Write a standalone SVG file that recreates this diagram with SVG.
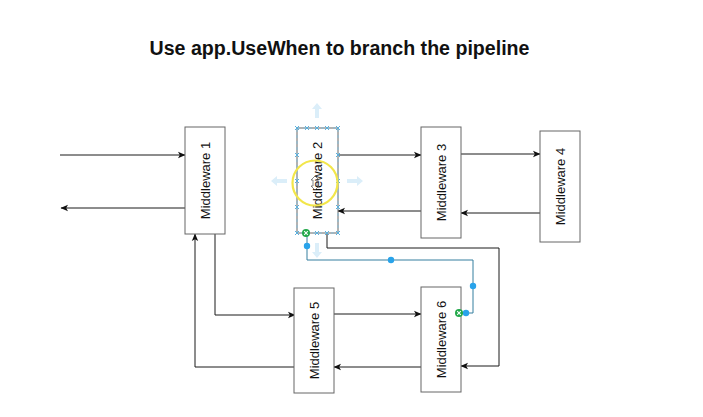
<svg xmlns="http://www.w3.org/2000/svg" width="703" height="417" viewBox="0 0 703 417">
<defs>
<marker id="arr" viewBox="0 0 8 8" markerWidth="8" markerHeight="8" refX="7" refY="4" orient="auto" markerUnits="userSpaceOnUse">
<path d="M0,0.8 L7.5,4 L0,7.2 L1.8,4 z" fill="#111"/>
</marker>
<g id="xh"><path d="M-2,-2 L2,2 M-2,2 L2,-2" stroke="#5ab0dd" stroke-width="1"/></g>
<g id="dot"><circle r="3.2" fill="#29a3ea"/></g>
<g id="green"><circle r="4" fill="#22a84a"/><path d="M-1.8,-1.8 L1.8,1.8 M-1.8,1.8 L1.8,-1.8" stroke="#fff" stroke-width="1.1"/></g>
</defs>
<style>
.box{fill:#fff;stroke:#666;stroke-width:1}
.lbl{font-family:"Liberation Sans",Arial,sans-serif;font-size:13px;fill:#111;text-anchor:middle}
.e{fill:none;stroke:#1a1a1a;stroke-width:1}
.sel{fill:none;stroke:#357f9f;stroke-width:1}
.ha{fill:#dbeef9}
</style>
<rect width="703" height="417" fill="#fff"/>
<text x="339.5" y="55" font-family="'Liberation Sans',Arial,sans-serif" font-size="19.6" font-weight="bold" text-anchor="middle" fill="#111">Use app.UseWhen to branch the pipeline</text>

<g id="connectors">
<path class="e" d="M60,155 L185,155" marker-end="url(#arr)"/>
<path class="e" d="M185,208 L61,208" marker-end="url(#arr)"/>
<path class="e" d="M338,155 L421,155" marker-end="url(#arr)"/>
<path class="e" d="M461,154 L540,154" marker-end="url(#arr)"/>
<path class="e" d="M540,213 L461,213" marker-end="url(#arr)"/>
<path class="e" d="M421,211 L338,211" marker-end="url(#arr)"/>
<path class="e" d="M215,234 L215,315 L295,315" marker-end="url(#arr)"/>
<path class="e" d="M295,367 L195,367 L195,234" marker-end="url(#arr)"/>
<path class="e" d="M334,314 L421,314" marker-end="url(#arr)"/>
<path class="e" d="M421,367 L334,367" marker-end="url(#arr)"/>
<path class="e" d="M327,233 L327,248 L499,248 L499,366 L461,366" marker-end="url(#arr)"/>
<path class="sel" d="M307,233 L307,260 L473,260 L473,313 L461,313"/>
</g>

<g id="m1"><rect class="box" x="185" y="127" width="40" height="107"/><text class="lbl" transform="translate(205,180.5) rotate(-90)" y="4.5">Middleware 1</text></g>
<g id="m2"><rect class="box" x="297" y="128" width="41" height="105"/><text class="lbl" transform="translate(317.5,180.5) rotate(-90)" y="4.5">Middleware 2</text></g>
<g id="m3"><rect class="box" x="421" y="127" width="40" height="111"/><text class="lbl" transform="translate(441,182.5) rotate(-90)" y="4.5">Middleware 3</text></g>
<g id="m4"><rect class="box" x="540" y="131" width="40" height="111"/><text class="lbl" transform="translate(560,186.5) rotate(-90)" y="4.5">Middleware 4</text></g>
<g id="m5"><rect class="box" x="294" y="288" width="40" height="105"/><text class="lbl" transform="translate(314,340.5) rotate(-90)" y="4.5">Middleware 5</text></g>
<g id="m6"><rect class="box" x="421" y="287" width="40" height="105"/><text class="lbl" transform="translate(441,339.5) rotate(-90)" y="4.5">Middleware 6</text></g>

<g id="selection">
<path class="ha" d="M317,103 L322,109 L319,109 L319,118 L315,118 L315,109 L312,109 z"/>
<path class="ha" d="M317,258 L322,252 L319,252 L319,243 L315,243 L315,252 L312,252 z"/>
<path class="ha" d="M271,181 L277,176 L277,179 L287,179 L287,183 L277,183 L277,186 z"/>
<path class="ha" d="M363,181 L357,176 L357,179 L347,179 L347,183 L357,183 L357,186 z"/>
<rect x="297" y="128" width="41" height="105" fill="none" stroke="#7fbfe0" stroke-width="0.8" stroke-dasharray="3,3"/>
<use href="#xh" x="297" y="128"/><use href="#xh" x="307" y="128"/><use href="#xh" x="317" y="128"/><use href="#xh" x="327" y="128"/><use href="#xh" x="338" y="128"/>
<use href="#xh" x="297" y="155"/><use href="#xh" x="297" y="181"/><use href="#xh" x="297" y="207"/>
<use href="#xh" x="338" y="155"/><use href="#xh" x="338" y="181"/><use href="#xh" x="338" y="207"/>
<use href="#xh" x="297" y="233"/><use href="#xh" x="317" y="233"/><use href="#xh" x="327" y="233"/><use href="#xh" x="338" y="233"/>
<circle cx="315" cy="183" r="22.5" fill="none" stroke="#f2e64a" stroke-width="2.2"/>
<path d="M315,176 L319,180 L317,180 L317,186 L319,186 L315,190 L311,186 L313,186 L313,180 L311,180 z" fill="none" stroke="#555" stroke-width="0.7"/>
<use href="#dot" x="307" y="246"/>
<use href="#dot" x="391" y="260"/>
<use href="#dot" x="473" y="286"/>
<use href="#dot" x="466" y="313"/>
<use href="#green" x="306" y="233"/>
<use href="#green" x="459" y="313"/>
</g>
</svg>
